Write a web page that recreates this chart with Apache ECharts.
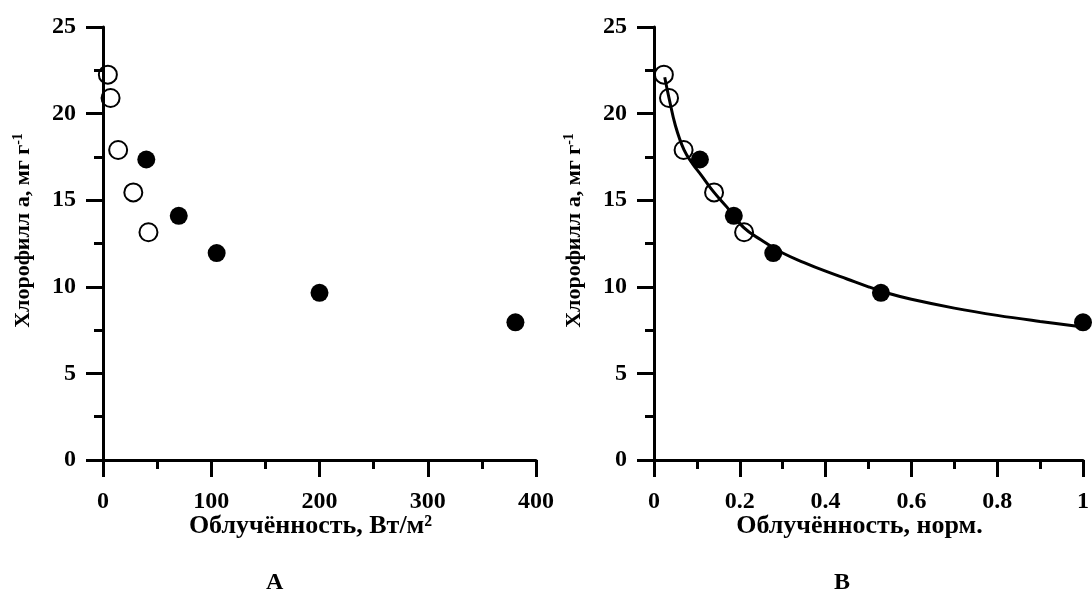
<!DOCTYPE html>
<html>
<head>
<meta charset="utf-8">
<script src="https://cdn.jsdelivr.net/npm/echarts@6/dist/echarts.min.js"></script>
<style>
  html, body { margin: 0; padding: 0; background: #fff; }
  #chart { width: 1092px; height: 590px; }
</style>
</head>
<body>
<div id="chart"></div>
<script>
// open circles: one series of plants, filled: the other
const openIrr = [4.5, 7, 14, 28, 42]
const openChl = [22.25, 20.9, 17.9, 15.45, 13.15]
const fullIrr = [40, 70, 105, 200, 381]
const fullChl = [17.35, 14.1, 11.95, 9.65, 7.95]

// same points against normalised irradiance
const openNorm = [0.023, 0.035, 0.069, 0.14, 0.21]
const fullNorm = [0.107, 0.186, 0.278, 0.529, 1.0]

// fitted curve
const fitNorm = [0.025, 0.035, 0.05, 0.07, 0.09, 0.11, 0.14, 0.17, 0.21, 0.25, 0.3, 0.35, 0.4, 0.45, 0.5, 0.55, 0.6, 0.7, 0.8, 0.9, 1.0]
const fitChl = [22.1, 20.9, 19.3, 17.9, 17.1, 16.45, 15.45, 14.6, 13.4, 12.7, 11.95, 11.4, 10.9, 10.45, 10.0, 9.6, 9.28, 8.77, 8.35, 8.0, 7.68]

const yTicks = [0, 25, 5]   // min, max, step
const xTicksA = [0, 400, 100]
const xTicksB = [0, 1, 0.2]

const FONT = 'Liberation Serif'
const zip = (a, b) => a.map((v, i) => [v, b[i]])

const axisLine = { lineStyle: { color: '#000', width: 3 } }
const axisTick = { length: 17, lineStyle: { color: '#000', width: 3 } }
const minorTick = { show: true, splitNumber: 2, length: 9, lineStyle: { color: '#000', width: 3 } }
const axisLabel = { color: '#000', fontFamily: FONT, fontWeight: 'bold', fontSize: 24 }

function xAxis(idx, ticks, name) {
  return {
    type: 'value', gridIndex: idx,
    min: ticks[0], max: ticks[1], interval: ticks[2],
    name: name, nameLocation: 'middle', nameGap: 53, nameMoveOverlap: false,
    nameTextStyle: { color: '#000', fontFamily: FONT, fontWeight: 'bold', fontSize: 26, padding: [0, 18, 0, 0] },
    axisLine, axisTick, minorTick,
    axisLabel: Object.assign({ margin: 30 }, axisLabel),
    splitLine: { show: false }
  }
}

function yAxis(idx) {
  return {
    type: 'value', gridIndex: idx,
    min: yTicks[0], max: yTicks[1], interval: yTicks[2],
    name: 'Хлорофилл а, мг г{sup|-1}', nameLocation: 'middle', nameGap: 68, nameMoveOverlap: false,
    nameTextStyle: {
      color: '#000', fontFamily: FONT, fontWeight: 'bold', fontSize: 22, padding: [0, 0, 0, 26],
      rich: { sup: { fontFamily: FONT, fontWeight: 'bold', fontSize: 14, verticalAlign: 'top', padding: [0, 0, 10, 0] } }
    },
    axisLine, axisTick, minorTick,
    axisLabel: Object.assign({ margin: 27 }, axisLabel),
    splitLine: { show: false }
  }
}

const openStyle = { color: 'rgba(0,0,0,0)', borderColor: '#000', borderWidth: 2, opacity: 1 }
const fullStyle = { color: '#000', opacity: 1 }

function dots(idx, data, style) {
  return {
    type: 'scatter', xAxisIndex: idx, yAxisIndex: idx,
    symbol: 'circle', symbolSize: 18, itemStyle: style,
    data: data, silent: true, z: 3
  }
}

const chart = echarts.init(document.getElementById('chart'), null, { renderer: 'canvas' })
chart.setOption({
  animation: false,
  backgroundColor: '#fff',
  title: [
    { text: 'А', left: 261, top: 566, textStyle: { color: '#000', fontFamily: FONT, fontWeight: 'bold', fontSize: 24 } },
    { text: 'В', left: 829, top: 566, textStyle: { color: '#000', fontFamily: FONT, fontWeight: 'bold', fontSize: 24 } }
  ],
  grid: [
    { left: 103, top: 27, width: 433, height: 433 },
    { left: 654, top: 27, width: 435, height: 433 }
  ],
  xAxis: [
    xAxis(0, xTicksA, 'Облучённость, Вт/м²'),
    xAxis(1, xTicksB, 'Облучённость, норм.')
  ],
  yAxis: [yAxis(0), yAxis(1)],
  series: [
    dots(0, zip(openIrr, openChl), openStyle),
    dots(0, zip(fullIrr, fullChl), fullStyle),
    {
      type: 'line', xAxisIndex: 1, yAxisIndex: 1,
      data: zip(fitNorm, fitChl), smooth: 0.4, symbol: 'none',
      lineStyle: { color: '#000', width: 3 }, silent: true, z: 2
    },
    dots(1, zip(openNorm, openChl), openStyle),
    dots(1, zip(fullNorm, fullChl), fullStyle)
  ]
})
</script>
</body>
</html>
